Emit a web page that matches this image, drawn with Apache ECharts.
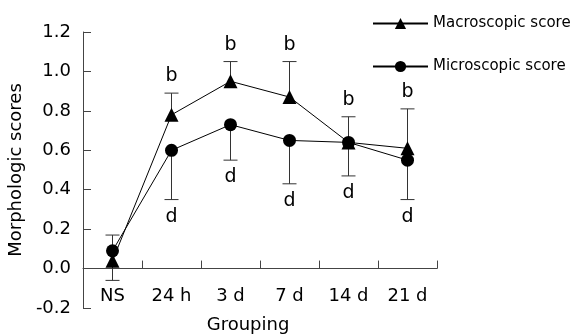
<!DOCTYPE html>
<html>
<head>
<meta charset="utf-8">
<script src="https://cdn.jsdelivr.net/npm/echarts@6/dist/echarts.min.js"></script>
<style>
  html, body { margin: 0; padding: 0; background: #fff; }
  #chart { width: 579px; height: 336px; }
</style>
</head>
<body>
<div id="chart"></div>
<script>
// 分组与两组评分
const categories = ['NS', '24 h', '3 d', '7 d', '14 d', '21 d']
const macroScore = [0.04, 0.78, 0.95, 0.87, 0.64, 0.61]
const microScore = [0.09, 0.60, 0.73, 0.65, 0.64, 0.55]
// error bar ends (macro upward, micro downward)
const macroUpper = [0.17, 0.89, 1.05, 1.05, 0.77, 0.81]
const microLower = [-0.06, 0.35, 0.55, 0.43, 0.47, 0.35]
const macroMark = ['', 'b', 'b', 'b', 'b', 'b']
const microMark = ['', 'd', 'd', 'd', 'd', 'd']
const yTicks = { min: -0.2, max: 1.2, interval: 0.2 }

const font = 'DejaVu Sans'
const chart = echarts.init(document.getElementById('chart'))

function errorBar(marks, dir) {
  return function (params, api) {
    const i = params.dataIndex
    const p0 = api.coord([api.value(0), api.value(1)])
    const p1 = api.coord([api.value(0), api.value(2)])
    const children = [
      { type: 'line', shape: { x1: p0[0], y1: p0[1], x2: p1[0], y2: p1[1] }, style: { stroke: '#333', lineWidth: 1 } },
      { type: 'line', shape: { x1: p1[0] - 7, y1: p1[1], x2: p1[0] + 7, y2: p1[1] }, style: { stroke: '#333', lineWidth: 1 } }
    ]
    if (marks[i]) {
      children.push({
        type: 'text',
        style: {
          text: marks[i], x: p1[0], y: p1[1] + dir * 17,
          align: 'center', verticalAlign: 'middle',
          fontSize: 19, fontFamily: font, fill: '#000'
        }
      })
    }
    return { type: 'group', children: children }
  }
}

const option = {
  animation: false,
  backgroundColor: '#fff',
  grid: { left: 83, right: 142, top: 32, bottom: 28, outerBoundsMode: 'none' },
  legend: {
    orient: 'vertical',
    left: 372,
    top: 16,
    padding: 0,
    itemWidth: 55,
    itemHeight: 14,
    itemGap: 28,
    textStyle: { fontSize: 15, fontFamily: font, color: '#000', padding: [0, 0, 0, 0] },
    data: ['Macroscopic score', 'Microscopic score']
  },
  xAxis: {
    type: 'category',
    data: categories,
    boundaryGap: true,
    name: 'Grouping',
    nameLocation: 'middle',
    nameGap: 8,
    nameTextStyle: { fontSize: 18, fontFamily: font, color: '#000', padding: [0, 24, 0, 0] },
    axisLine: { onZero: true, lineStyle: { color: '#444', width: 1 } },
    axisTick: { show: true, inside: true, length: 8, lineStyle: { color: '#444' } },
    axisLabel: { margin: -21, fontSize: 18, fontFamily: font, color: '#000' },
    splitLine: { show: false }
  },
  yAxis: {
    type: 'value',
    min: yTicks.min,
    max: yTicks.max,
    interval: yTicks.interval,
    name: 'Morphologic scores',
    nameLocation: 'middle',
    nameGap: 50,
    nameTextStyle: { fontSize: 18, fontFamily: font, color: '#000' },
    axisLine: { show: true, lineStyle: { color: '#444', width: 1 } },
    axisTick: { show: true, inside: true, length: 8, lineStyle: { color: '#444' } },
    axisLabel: {
      margin: 12, fontSize: 18, fontFamily: font, color: '#000',
      formatter: function (v) { return Math.abs(v) < 1e-9 ? '0.0' : v.toFixed(1) }
    },
    splitLine: { show: false }
  },
  series: [
    {
      type: 'custom',
      renderItem: errorBar(macroMark, -1),
      data: categories.map((c, i) => [i, macroScore[i], macroUpper[i]]),
      z: 1,
      silent: true
    },
    {
      type: 'custom',
      renderItem: errorBar(microMark, 1),
      data: categories.map((c, i) => [i, microScore[i], microLower[i]]),
      z: 1,
      silent: true
    },
    {
      name: 'Macroscopic score',
      type: 'line',
      data: macroScore,
      symbol: 'triangle',
      symbolSize: 14,
      lineStyle: { color: '#000', width: 1 },
      itemStyle: { color: '#000' },
      z: 3
    },
    {
      name: 'Microscopic score',
      type: 'line',
      data: microScore,
      symbol: 'circle',
      symbolSize: 13,
      lineStyle: { color: '#000', width: 1 },
      itemStyle: { color: '#000' },
      z: 3
    }
  ]
}
chart.setOption(option)
</script>
</body>
</html>
